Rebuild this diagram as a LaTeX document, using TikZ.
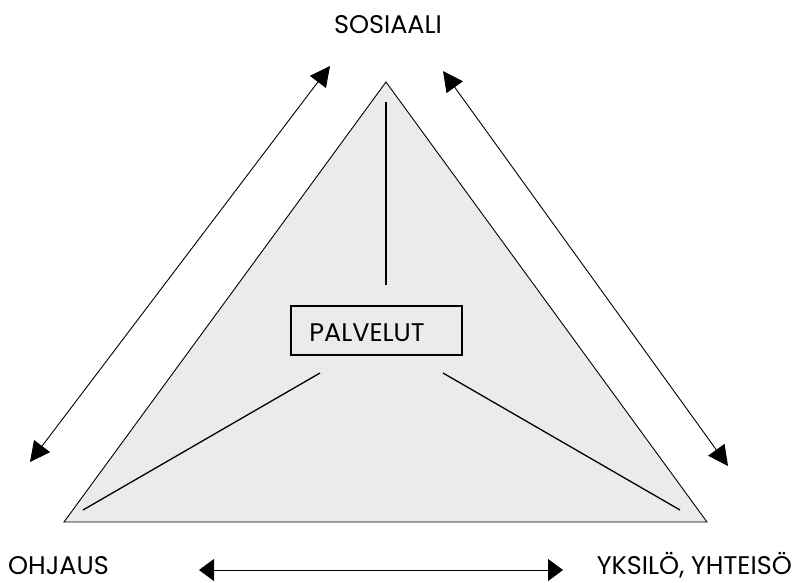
\documentclass[tikz,border=0pt]{standalone}
\usepackage{fontspec}
\setmainfont{Poppins}
\usetikzlibrary{arrows.meta}
\begin{document}
\begin{tikzpicture}[x=1pt,y=-1pt,
  lbl/.style={font=\fontsize{25.5}{28}\selectfont, inner sep=0pt, text depth=0pt},
  dbl/.style={line width=0.9pt, {Triangle[length=20pt,width=20pt]}-{Triangle[length=20pt,width=20pt]}},
  hdbl/.style={line width=0.9pt, {Triangle[length=15pt,width=22pt]}-{Triangle[length=15pt,width=22pt]}},
  inner/.style={line width=1.3pt}]
\useasboundingbox (0,0) rectangle (795,582);
\coordinate (A) at (386,82);
\coordinate (L) at (64,522);
\coordinate (R) at (707,522);
\filldraw[fill=black!8, draw=black, line width=0.9pt] (A) -- (L) -- (R) -- cycle;
\node[draw, line width=1.8pt, minimum width=171pt, minimum height=49pt, inner sep=0pt] (box) at (376.5,330.5) {};
\node[lbl, anchor=base] (pal) at (367,341) {PALVELUT};
\coordinate (v1) at (386,102);
\coordinate (v2) at (386,285);
\draw[inner] (v1) -- (v2);
\coordinate (l1) at (320,373);
\coordinate (l2) at (83,510);
\draw[inner] (l1) -- (l2);
\coordinate (r1) at (443,373);
\coordinate (r2) at (680,510);
\draw[inner] (r1) -- (r2);
\coordinate (a1) at (330,66);
\coordinate (a2) at (30,462);
\draw[dbl] (a1) -- (a2);
\coordinate (b1) at (443,71);
\coordinate (b2) at (728,466);
\draw[dbl] (b1) -- (b2);
\coordinate (c1) at (199,570);
\coordinate (c2) at (563,570);
\draw[hdbl] (c1) -- (c2);
\node[lbl, anchor=base] (sos) at (388,33) {SOSIAALI};
\node[lbl, anchor=base west] (ohj) at (8,574) {OHJAUS};
\node[lbl, anchor=base east] (yks) at (792,574) {YKSILÖ, YHTEISÖ};
\end{tikzpicture}
\end{document}
